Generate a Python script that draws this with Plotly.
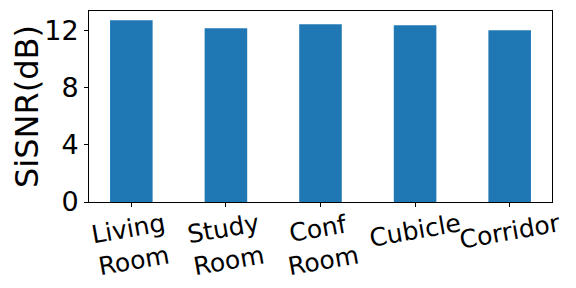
import plotly.graph_objects as go

categories = ["Living<br>Room", "Study<br>Room", "Conf<br>Room", "Cubicle", "Corridor"]
values = [12.72, 12.16, 12.44, 12.37, 12.02]
y_ticks = [0, 4, 8, 12]

xs = list(range(len(categories)))

fig = go.Figure()
fig.add_trace(go.Bar(x=xs, y=values, width=0.45, marker=dict(color="#1f77b4", line=dict(width=0))))

for x, lab in zip(xs, categories):
    fig.add_annotation(x=x, xref="x", y=0, yref="paper", yanchor="top", xanchor="center",
                       yshift=-4, text=lab, textangle=-10, showarrow=False,
                       font=dict(family="DejaVu Sans", size=25, color="black"))

# page body has an 8px default margin; compensate so the plot area lands where the reference has it
fig.update_layout(
    width=576, height=288,
    margin=dict(l=81, r=32, t=3, b=94, autoexpand=False),
    plot_bgcolor="white", paper_bgcolor="white",
    showlegend=False,
    font=dict(family="DejaVu Sans", color="black"),
)
fig.update_xaxes(range=[-0.4475, 4.4475], tickvals=xs, showticklabels=False, automargin=False,
                 ticks="outside", ticklen=4, tickcolor="black", tickwidth=1,
                 showline=True, linecolor="black", linewidth=1, mirror=True, showgrid=False, zeroline=False)
fig.update_yaxes(range=[0, 13.36], tickvals=y_ticks, ticktext=[str(t) for t in y_ticks], automargin=False,
                 ticks="outside", ticklen=4, tickcolor="black", tickwidth=1,
                 tickfont=dict(family="DejaVu Sans", size=27, color="black"),
                 title=dict(text="SiSNR(dB)", font=dict(family="DejaVu Sans", size=32, color="black"), standoff=10),
                 showline=True, linecolor="black", linewidth=1, mirror=True, showgrid=False, zeroline=False)

fig.write_html("out.html")
